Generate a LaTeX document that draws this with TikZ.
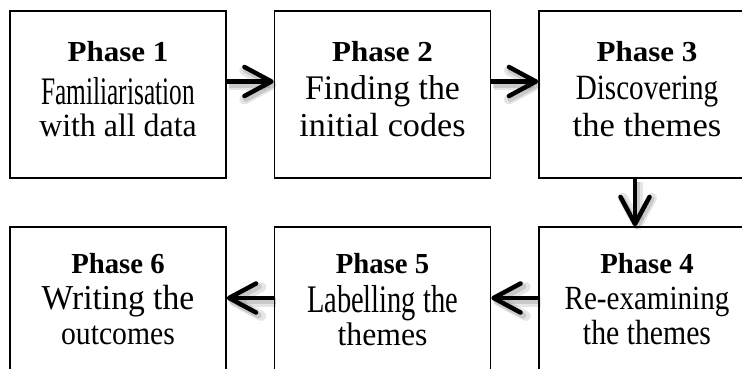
\documentclass[tikz,border=0pt]{standalone}
\usepackage{fontspec}
\setmainfont{Liberation Serif}
\usetikzlibrary{arrows.meta}
% one line of box text: size, horizontal scale, text
\newcommand\ptext[3]{\scalebox{#2}[1]{\fontsize{#1}{#1}\selectfont #3}}
\begin{document}
\begin{tikzpicture}[x=1pt,y=-1pt,
  phasebox/.style={draw=black, line width=1.6pt, fill=white,
    minimum width=216pt, minimum height=167pt, inner sep=0pt},
  txt/.style={anchor=base, inner sep=0pt},
  flow/.style={line width=4.5pt, black,
    -{Straight Barb[length=27pt, width=29pt, round]},
    preaction={draw=black, opacity=0.10, line width=10pt,
      transform canvas={shift={(2.5pt,-3.5pt)}}},
    preaction={draw=black, opacity=0.12, line width=6pt,
      transform canvas={shift={(2pt,-3pt)}}}}
]
\useasboundingbox (0,0) rectangle (742,368);
\clip (0,0) rectangle (742,368);

% boxes
\node[phasebox] (b1) at (118,94.5) {};
\node[phasebox] (b2) at (382.5,94.5) {};
\node[phasebox] (b3) at (647,94.5) {};
\node[phasebox] (b6) at (118,310.5) {};
\node[phasebox] (b5) at (382.5,310.5) {};
\node[phasebox] (b4) at (647,310.5) {};

% box texts (baselines measured from the box top)
\node[txt] (p1) at ([yshift=-51pt]b1.north) {\ptext{29}{1.07}{\bfseries Phase 1}};
\node[txt] (p1a) at ([yshift=-94pt]b1.north) {\ptext{39}{0.65}{Familiarisation}};
\node[txt] (p1b) at ([yshift=-126pt]b1.north) {\ptext{32.5}{0.98}{with all data}};

\node[txt] (p2) at ([yshift=-51pt]b2.north) {\ptext{29}{1.07}{\bfseries Phase 2}};
\node[txt] (p2a) at ([yshift=-89pt]b2.north) {\ptext{34.5}{0.98}{Finding the}};
\node[txt] (p2b) at ([yshift=-126pt]b2.north) {\ptext{33.5}{1.02}{initial codes}};

\node[txt] (p3) at ([yshift=-51pt]b3.north) {\ptext{29}{1.07}{\bfseries Phase 3}};
\node[txt] (p3a) at ([yshift=-89pt]b3.north) {\ptext{35.5}{0.82}{Discovering}};
\node[txt] (p3b) at ([yshift=-126pt]b3.north) {\ptext{33.5}{1.03}{the themes}};

\node[txt] (p4) at ([yshift=-47pt]b4.north) {\ptext{29}{0.99}{\bfseries Phase 4}};
\node[txt] (p4a) at ([yshift=-83.5pt]b4.north) {\ptext{33.8}{0.86}{Re-examining}};
\node[txt] (p4b) at ([yshift=-118.5pt]b4.north) {\ptext{35}{0.85}{the themes}};

\node[txt] (p5) at ([yshift=-47pt]b5.north) {\ptext{29}{0.99}{\bfseries Phase 5}};
\node[txt] (p5a) at ([yshift=-86pt]b5.north) {\ptext{39}{0.73}{Labelling the}};
\node[txt] (p5b) at ([yshift=-119pt]b5.north) {\ptext{32.7}{0.97}{themes}};

\node[txt] (p6) at ([yshift=-47pt]b6.north) {\ptext{29}{0.99}{\bfseries Phase 6}};
\node[txt] (p6a) at ([yshift=-83.5pt]b6.north) {\ptext{35}{0.96}{Writing the}};
\node[txt] (p6b) at ([yshift=-118.5pt]b6.north) {\ptext{33}{0.9}{outcomes}};

% connectors
\draw[flow] ([yshift=13pt]b1.east) -- ([yshift=13pt]b2.west);
\draw[flow] ([yshift=13pt]b2.east) -- ([yshift=13pt]b3.west);
\draw[flow] ([xshift=-12pt]b3.south) -- ([xshift=-12pt]b4.north);
\draw[flow] ([yshift=12.5pt]b4.west) -- ([yshift=12.5pt]b5.east);
\draw[flow] ([yshift=12.5pt]b5.west) -- ([yshift=12.5pt]b6.east);
\end{tikzpicture}
\end{document}
